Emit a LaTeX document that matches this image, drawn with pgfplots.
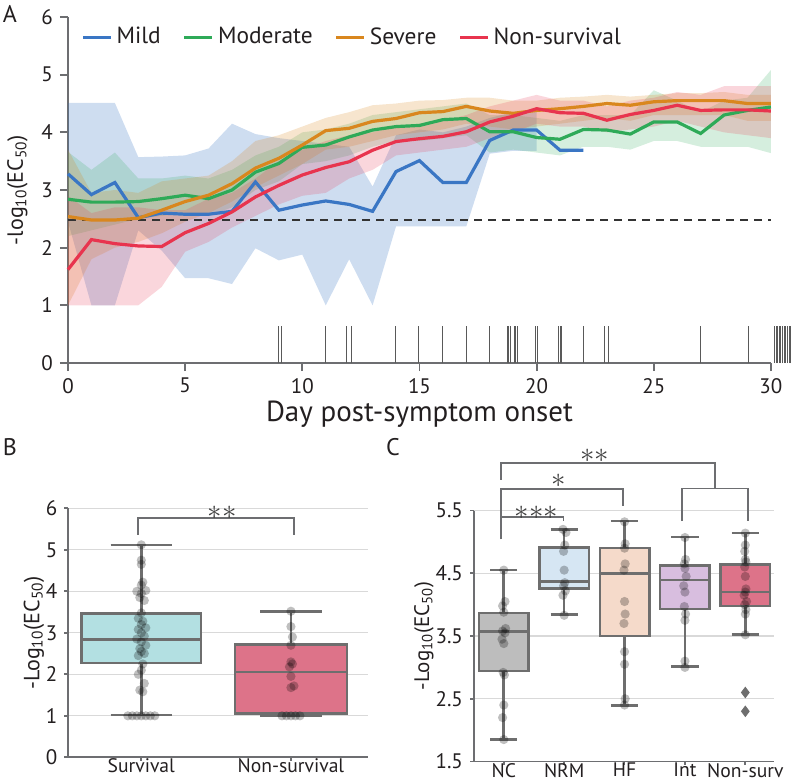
\documentclass[border=0pt]{standalone}
\usepackage{fontspec}
\setmainfont{PT Sans}
\usepackage{pgfplots}
\pgfplotsset{compat=1.18}
\usepgfplotslibrary{statistics}
\usepackage{pgfplotstable}

\definecolor{mildc}{HTML}{3A76C4}
\definecolor{modc}{HTML}{2EAA58}
\definecolor{sevc}{HTML}{D9871E}
\definecolor{nonc}{HTML}{E8344E}
\definecolor{boxgray}{HTML}{6E6E6E}
\definecolor{axgray}{HTML}{6D6E71}
\definecolor{txt}{HTML}{231F20}
\definecolor{survfill}{HTML}{B3E0E2}
\definecolor{nsfill}{HTML}{DD7389}
\definecolor{ncfill}{HTML}{BDBDBD}
\definecolor{nrmfill}{HTML}{D6E6F3}
\definecolor{hffill}{HTML}{F5DACA}
\definecolor{intfill}{HTML}{D8BEDF}

% ---------- Panel A lines ----------
\pgfplotstableread{
d v
0 3.28
1 2.92
2 3.13
3 2.52
4 2.60
5 2.58
6 2.58
7 2.63
8 3.14
9 2.65
10 2.74
11 2.81
12 2.75
13 2.63
14 3.32
15 3.51
16 3.13
17 3.13
18 3.86
19 4.04
20 4.04
21 3.69
22 3.69
}\mildline
\pgfplotstableread{
d v
0 2.84
1 2.79
2 2.79
3 2.80
4 2.85
5 2.91
6 2.85
7 3.00
8 3.31
9 3.46
10 3.74
11 3.78
12 3.92
13 4.04
14 4.10
15 4.12
16 4.22
17 4.24
18 4.01
19 4.01
20 3.91
21 3.88
22 4.05
23 4.04
24 3.97
25 4.18
26 4.18
27 3.98
28 4.30
29 4.38
30 4.44
}\modline
\pgfplotstableread{
d v
0 2.54
1 2.48
2 2.48
3 2.51
4 2.65
5 2.80
6 2.91
7 3.11
8 3.38
9 3.55
10 3.78
11 4.03
12 4.07
13 4.19
14 4.24
15 4.34
16 4.36
17 4.45
18 4.37
19 4.33
20 4.38
21 4.41
22 4.45
23 4.50
24 4.47
25 4.53
26 4.55
27 4.55
28 4.55
29 4.50
30 4.50
}\sevline
\pgfplotstableread{
d v
0 1.62
1 2.14
2 2.07
3 2.03
4 2.02
5 2.26
6 2.42
7 2.62
8 2.88
9 3.08
10 3.26
11 3.39
12 3.49
13 3.69
14 3.84
15 3.89
16 3.93
17 4.01
18 4.18
19 4.28
20 4.41
21 4.34
22 4.33
23 4.21
24 4.31
25 4.38
26 4.47
27 4.38
28 4.39
29 4.39
30 4.37
}\nonline

% ---------- Panel A confidence bands (upper edge forward, lower edge back) ----------
\pgfplotstableread{
d v
0 4.51
1 4.51
2 4.51
3 3.57
4 3.58
5 3.60
6 3.72
7 4.15
8 3.97
9 3.90
10 3.85
11 3.80
12 3.75
13 3.06
14 3.95
15 4.05
16 4.00
17 4.10
18 4.25
19 4.35
20 4.35
20 3.68
19 3.68
18 3.63
17 2.37
16 2.37
15 2.37
14 2.37
13 1.00
12 1.80
11 1.00
10 1.88
9 1.78
8 1.99
7 1.37
6 1.47
5 1.47
4 1.95
3 2.30
2 1.00
1 1.00
0 2.45
}\mildband
\pgfplotstableread{
d v
0 3.66
1 3.35
2 3.65
3 3.20
4 3.20
5 3.25
6 3.20
7 3.35
8 3.60
9 3.75
10 4.00
11 4.05
12 4.15
13 4.30
14 4.35
15 4.40
16 4.45
17 4.50
18 4.30
19 4.30
20 4.25
21 4.20
22 4.30
23 4.30
24 4.30
25 4.73
26 4.55
27 4.35
28 4.55
29 4.60
30 5.08
30 3.64
29 3.75
28 3.75
27 3.75
26 3.85
25 3.85
24 3.70
23 3.75
22 3.75
21 3.60
20 3.65
19 3.70
18 3.65
17 3.95
16 3.90
15 3.85
14 3.85
13 3.75
12 3.60
11 3.50
10 3.45
9 3.15
8 3.00
7 2.70
6 2.55
5 2.60
4 2.55
3 2.50
2 2.40
1 2.30
0 2.20
}\modband
\pgfplotstableread{
d v
0 3.70
1 2.95
2 3.00
3 2.95
4 3.15
5 3.20
6 3.25
7 3.50
8 3.85
9 3.95
10 4.10
11 4.25
12 4.35
13 4.47
14 4.50
15 4.55
16 4.56
17 4.60
18 4.60
19 4.55
20 4.55
21 4.60
22 4.62
23 4.65
24 4.62
25 4.65
26 4.68
27 4.68
28 4.70
29 4.65
30 4.65
30 4.20
29 4.20
28 4.30
27 4.30
26 4.30
25 4.30
24 4.20
23 4.25
22 4.20
21 4.15
20 4.10
19 4.05
18 4.10
17 4.15
16 4.05
15 4.00
14 3.95
13 3.85
12 3.75
11 3.70
10 3.45
9 3.25
8 3.05
7 2.80
6 2.60
5 2.45
4 2.25
3 2.10
2 2.00
1 1.80
0 1.00
}\sevband
\pgfplotstableread{
d v
0 2.90
1 2.60
2 2.70
3 2.70
4 2.65
5 2.65
6 2.85
7 2.95
8 3.20
9 3.50
10 3.70
11 3.85
12 3.95
13 4.00
14 4.10
15 4.15
16 4.20
17 4.30
18 4.45
19 4.55
20 4.65
21 4.55
22 4.55
23 4.45
24 4.55
25 4.60
26 4.70
27 4.65
28 4.80
29 4.80
30 4.80
30 3.90
29 3.95
28 4.00
27 4.10
26 4.20
25 4.10
24 4.05
23 4.00
22 4.10
21 4.10
20 4.15
19 4.00
18 3.90
17 3.75
16 3.70
15 3.65
14 3.60
13 3.35
12 3.20
11 2.95
10 2.90
9 2.75
8 2.55
7 2.35
6 2.10
5 1.93
4 1.32
3 1.00
2 1.00
1 1.00
0 1.00
}\nonband

% ---------- Panel B / C points ----------
\pgfplotstableread{
x y
-0.06 1.0
-0.03 1.0
0.00 1.0
0.03 1.0
0.06 1.0
-0.09 1.0
0.09 1.0
0.01 1.58
-0.01 1.62
0.02 1.78
-0.02 2.00
0.00 2.10
0.01 2.25
-0.02 2.45
0.02 2.50
0.00 2.55
-0.01 2.62
0.03 2.70
0.00 2.78
-0.03 2.85
0.02 2.92
0.00 3.00
-0.02 3.08
0.03 3.12
0.00 3.20
0.01 3.28
-0.02 3.35
0.00 3.48
0.02 3.78
-0.01 3.85
0.00 3.95
-0.03 4.00
0.03 4.02
0.00 4.15
0.01 4.22
0.00 4.65
0.00 4.75
0.00 5.12
0.94 1.0
0.97 1.0
1.00 1.0
1.03 1.0
1.06 1.0
1.00 1.68
1.02 1.72
1.00 1.95
0.99 2.18
1.01 2.25
1.00 2.30
1.00 2.70
1.01 2.90
1.00 3.15
1.00 3.52
}\Bpts
\pgfplotstableread{
x y
0.00 1.85
-0.02 2.20
0.00 2.40
0.01 2.88
-0.01 2.92
0.00 3.38
-0.03 3.45
0.02 3.55
-0.02 3.58
0.03 3.62
0.00 3.88
-0.02 3.98
0.02 4.05
0.00 4.55
1.00 3.83
0.98 4.15
1.02 4.22
0.99 4.30
1.01 4.35
1.00 4.55
0.99 4.85
1.01 4.95
1.03 5.15
0.98 5.20
2.00 2.40
2.01 2.50
2.00 3.05
2.00 3.25
1.99 3.70
2.01 3.85
2.00 4.05
1.99 4.55
2.01 4.65
2.00 4.90
2.01 4.97
2.00 5.32
3.00 3.00
3.00 3.10
3.00 3.75
3.01 3.85
2.99 3.97
3.00 4.20
2.98 4.30
3.02 4.45
3.00 4.58
2.99 4.65
3.01 4.72
3.00 5.07
4.00 3.52
4.00 3.85
4.01 3.92
3.99 4.00
4.02 4.05
3.98 4.15
4.00 4.20
4.01 4.25
4.00 4.45
3.99 4.60
4.01 4.68
4.00 4.72
3.99 4.85
4.00 4.95
4.00 5.14
}\Cpts

\begin{document}
\begin{tikzpicture}
\useasboundingbox (0,0) rectangle (396pt,-391.5pt);
\pgfplotsset{
  common/.style={
    scale only axis,
    axis lines=left,
    axis line style={-, axgray, line width=0.9pt},
    tick style={axgray, line width=0.9pt},
    tick align=outside,
    major tick length=4pt,
    tick label style={font=\fontsize{10.5}{12}\selectfont, text=txt},
    label style={font=\fontsize{11}{13}\selectfont, text=txt},
    /pgf/number format/assume math mode=true,
  },
  boxax/.style={
    boxplot/draw direction=y,
    major tick length=1.8pt,
    ymajorgrids, grid style={black!15, line width=0.6pt},
    xticklabel style={font=\fontsize{9.8}{12}\selectfont, yshift=4.5pt},
    clip=false,
  },
  bx/.style={draw=boxgray, line width=1.3pt, solid},
  pts/.style={only marks, mark=*, mark size=2.3pt, mark options={fill=black, fill opacity=0.25, draw opacity=0}},
  brk/.style={axgray, line width=0.9pt, mark=none},
}
\node[font=\fontsize{12}{14}\selectfont, text=txt] at (5pt,-7pt) {A};
\node[font=\fontsize{12}{14}\selectfont, text=txt] at (5pt,-223.5pt) {B};
\node[font=\fontsize{12}{14}\selectfont, text=txt] at (196.5pt,-223.5pt) {C};

% ================= Panel A =================
\begin{axis}[common,
  at={(34pt,-181.5pt)}, anchor=south west,
  width=351.45pt, height=173pt,
  xmin=0, xmax=30, ymin=0, ymax=6,
  xtick={0,5,...,30}, ytick={0,...,6},
  clip=false,
  xlabel={Day post-symptom onset},
  xlabel style={font=\fontsize{14.5}{16}\selectfont},
  xlabel shift=-3pt,
  ylabel={-log\textsubscript{10}(EC\textsubscript{50})},
  legend columns=4,
  legend image code/.code={\draw[#1, line width=1.6pt] (0pt,0pt) -- (14pt,0pt);},
  legend style={draw=none, fill=none, at={(0.01,0.9417)}, anchor=west,
    font=\fontsize{11.7}{13}\selectfont, text=txt,
    /tikz/every even column/.append style={column sep=9pt}},
]
\addplot[fill=mildc, fill opacity=0.25, draw=none, forget plot] table[x=d,y=v]{\mildband};
\addplot[fill=modc, fill opacity=0.2, draw=none, forget plot] table[x=d,y=v]{\modband};
\addplot[fill=sevc, fill opacity=0.22, draw=none, forget plot] table[x=d,y=v]{\sevband};
\addplot[fill=nonc, fill opacity=0.2, draw=none, forget plot] table[x=d,y=v]{\nonband};

\addplot[black!80, line width=0.7pt, dash pattern=on 4pt off 3pt, forget plot] coordinates {(0,2.48) (30,2.48)};

\addplot[ycomb, black!65, line width=0.5pt, mark=none, forget plot] coordinates {
(9.0,0.65)(9.12,0.65)(10.97,0.65)(11.88,0.65)(12.09,0.65)(13.98,0.65)(14.98,0.65)
(15.98,0.65)(17.0,0.65)(18.0,0.65)(18.75,0.65)(18.8,0.65)(18.9,0.65)(19.05,0.65)
(19.12,0.65)(19.2,0.65)(19.94,0.65)(20.04,0.65)(20.94,0.65)(21.0,0.65)(21.06,0.65)
(22.0,0.65)(22.9,0.65)(23.05,0.65)(27.0,0.65)(29.03,0.65)
(30.15,0.65)(30.22,0.65)(30.29,0.65)(30.36,0.65)(30.43,0.65)(30.5,0.65)
(30.57,0.65)(30.64,0.65)(30.71,0.65)(30.78,0.65)(30.85,0.65)(30.92,0.65)};

\addplot[mildc, line width=1.6pt] table[x=d,y=v]{\mildline};
\addlegendentry{Mild}
\addplot[modc, line width=1.6pt] table[x=d,y=v]{\modline};
\addlegendentry{Moderate}
\addplot[sevc, line width=1.6pt] table[x=d,y=v]{\sevline};
\addlegendentry{Severe}
\addplot[nonc, line width=1.6pt] table[x=d,y=v]{\nonline};
\addlegendentry{Non-survival}
\end{axis}

% ================= Panel B =================
\begin{axis}[common, boxax,
  at={(34pt,-378.65pt)}, anchor=south west,
  width=150pt, height=124.5pt,
  xmin=-0.49, xmax=1.515, ymin=0, ymax=6,
  xtick={0,1}, xticklabels={Survival,Non-survival},
  ytick={0,...,6},
  ylabel={-Log\textsubscript{10}(EC\textsubscript{50})},
  ylabel shift=-6pt,
]
\addplot[bx, fill=survfill, boxplot prepared={draw position=0, median=2.84, lower quartile=2.27,
  upper quartile=3.47, lower whisker=1.02, upper whisker=5.12,
  box extend=0.8, whisker extend=0.41}] coordinates {};
\addplot[bx, fill=nsfill, boxplot prepared={draw position=1, median=2.06, lower quartile=1.05,
  upper quartile=2.72, lower whisker=1.0, upper whisker=3.52,
  box extend=0.75, whisker extend=0.41}] coordinates {};
\addplot[pts] table[x=x,y=y]{\Bpts};
\addplot[brk] coordinates {(-0.02,5.36) (-0.02,5.76) (1.02,5.76) (1.02,5.36)};
\node[text=black!75] at (axis cs:0.54,5.9) {\Large${\ast}{\ast}$};
\end{axis}

% ================= Panel C =================
\begin{axis}[common, boxax,
  at={(236.8pt,-380.75pt)}, anchor=south west,
  width=150.35pt, height=125.5pt,
  xmin=-0.5, xmax=4.48, ymin=1.5, ymax=5.5,
  xtick={0,...,4}, xticklabels={NC,NRM,HF,Int,Non-surv},
  ytick={1.5,2.5,3.5,4.5,5.5}, yticklabels={1.5,2.5,3.5,4.5,5.5},
  ylabel={-Log\textsubscript{10}(EC\textsubscript{50})},
  ylabel style={font=\fontsize{10.5}{12}\selectfont},
  ylabel shift=-6pt,
]
\addplot[bx, fill=ncfill, boxplot prepared={draw position=0, median=3.57, lower quartile=2.94,
  upper quartile=3.87, lower whisker=1.85, upper whisker=4.55,
  box extend=0.82, whisker extend=0.45}] coordinates {};
\addplot[bx, fill=nrmfill, boxplot prepared={draw position=1, median=4.37, lower quartile=4.26,
  upper quartile=4.91, lower whisker=3.84, upper whisker=5.2,
  box extend=0.82, whisker extend=0.45}] coordinates {};
\addplot[bx, fill=hffill, boxplot prepared={draw position=2, median=4.5, lower quartile=3.5,
  upper quartile=4.9, lower whisker=2.39, upper whisker=5.33,
  box extend=0.82, whisker extend=0.45}] coordinates {};
\addplot[bx, fill=intfill, boxplot prepared={draw position=3, median=4.39, lower quartile=3.93,
  upper quartile=4.62, lower whisker=3.01, upper whisker=5.08,
  box extend=0.82, whisker extend=0.45}] coordinates {};
\addplot[bx, fill=nsfill, boxplot prepared={draw position=4, median=4.2, lower quartile=3.98,
  upper quartile=4.64, lower whisker=3.52, upper whisker=5.14,
  box extend=0.82, whisker extend=0.45}] coordinates {};
\addplot[pts] table[x=x,y=y]{\Cpts};
\addplot[only marks, mark=diamond*, mark size=2.6pt, mark options={fill=boxgray, draw=boxgray}] coordinates {(4,2.6) (4,2.3)};
\addplot[brk] coordinates {(-0.05,5.04) (-0.05,5.4) (0.99,5.4) (0.99,5.33)};
\addplot[brk] coordinates {(-0.05,5.4) (-0.05,5.84) (1.98,5.84) (1.98,5.57)};
\addplot[brk] coordinates {(-0.05,5.99) (-0.05,6.26) (3.5,6.26) (3.5,5.85)};
\addplot[brk] coordinates {(2.95,5.33) (2.95,5.85) (4.05,5.85) (4.05,5.33)};
\node[text=black!75] at (axis cs:0.54,5.47) {\Large${\ast}{\ast}{\ast}$};
\node[text=black!75] at (axis cs:0.91,5.97) {\Large${\ast}$};
\node[text=black!75] at (axis cs:1.51,6.37) {\Large${\ast}{\ast}$};
\end{axis}
\end{tikzpicture}
\end{document}
